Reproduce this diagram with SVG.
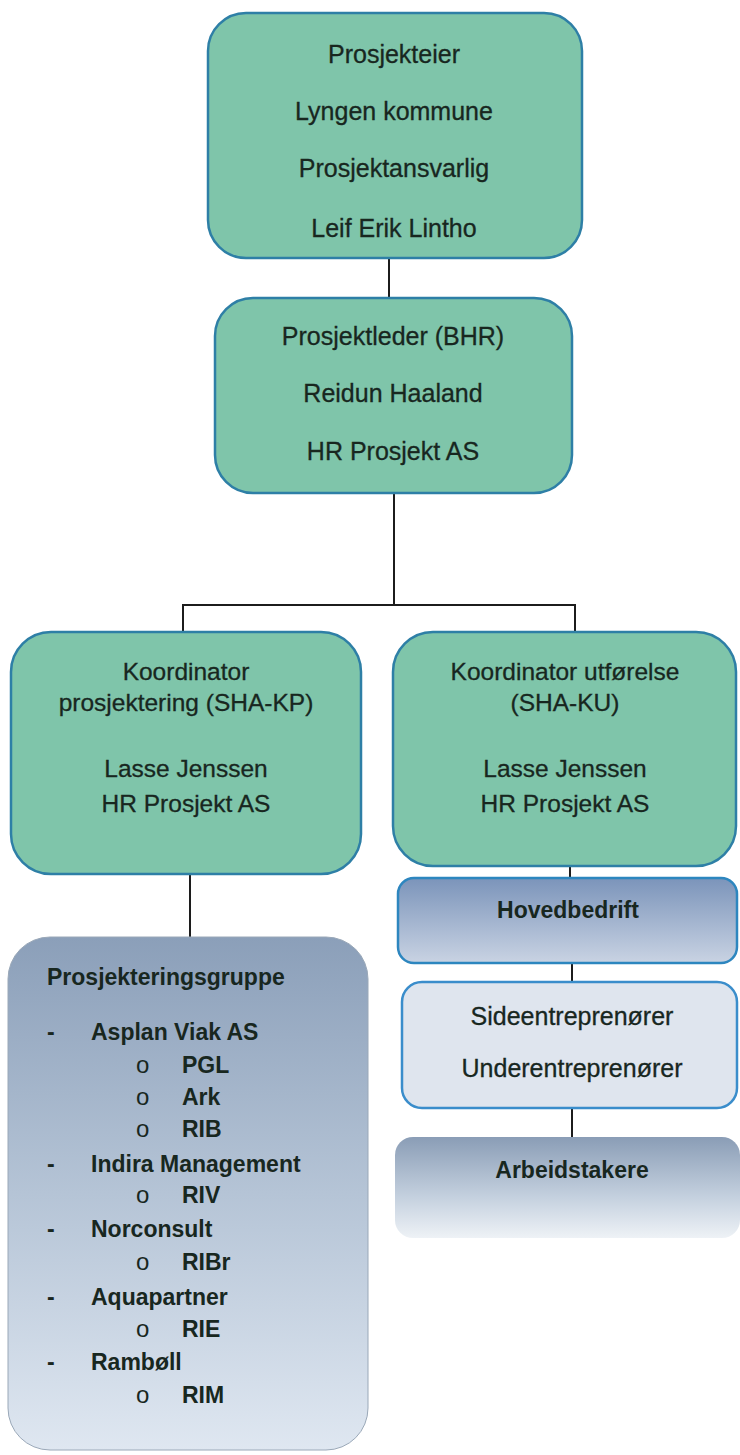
<svg xmlns="http://www.w3.org/2000/svg" width="740" height="1455" viewBox="0 0 740 1455">
<defs>
<linearGradient id="gBlue" x1="0" y1="0" x2="0" y2="1">
<stop offset="0" stop-color="#7b94ba"/>
<stop offset="1" stop-color="#c9d3e3"/>
</linearGradient>
<linearGradient id="gFade" x1="0" y1="0" x2="0" y2="1">
<stop offset="0" stop-color="#8a9db6"/>
<stop offset="0.6" stop-color="#c5d1df"/>
<stop offset="1" stop-color="#eef2f6"/>
</linearGradient>
<linearGradient id="gList" x1="0" y1="0" x2="0" y2="1">
<stop offset="0" stop-color="#8b9fb9"/>
<stop offset="0.5" stop-color="#b5c4d6"/>
<stop offset="1" stop-color="#dfe7f1"/>
</linearGradient>
</defs>
<style>
.green{fill:#7fc5aa;stroke:#2e7fa6;stroke-width:2.5}
.blue{fill:url(#gBlue);stroke:#2d86bf;stroke-width:2.5}
.light{fill:#dfe5ee;stroke:#3a8dcb;stroke-width:2.5}
.fade{fill:url(#gFade);stroke:none}
.list{fill:url(#gList);stroke:#9aa8b8;stroke-width:1}
text{font-family:"Liberation Sans",Arial,sans-serif;fill:#18271f}
.c{text-anchor:middle;font-size:25px;stroke:#18271f;stroke-width:0.3}
.cc{text-anchor:middle;font-size:24.5px;stroke:#18271f;stroke-width:0.3}
.b{font-weight:bold;font-size:23px;stroke:none}
.o{font-size:24px}
.conn line{stroke:#1c1c1c;stroke-width:2}
</style>
<rect width="740" height="1455" fill="#ffffff"/>
<g class="conn" id="connectors">
<line x1="389" y1="258" x2="389" y2="298"/>
<line x1="394" y1="493" x2="394" y2="605"/>
<line x1="182" y1="605" x2="576" y2="605"/>
<line x1="183" y1="604" x2="183" y2="632"/>
<line x1="575" y1="604" x2="575" y2="632"/>
<line x1="570" y1="866" x2="570" y2="878"/>
<line x1="572" y1="963" x2="572" y2="982"/>
<line x1="572" y1="1108" x2="572" y2="1137"/>
<line x1="190" y1="874" x2="190" y2="937"/>
</g>
<g id="prosjekteier">
<rect class="green" x="208" y="13" width="374" height="245" rx="38"/>
<text class="c" x="394" y="63">Prosjekteier</text>
<text class="c" x="394" y="120">Lyngen kommune</text>
<text class="c" x="394" y="177">Prosjektansvarlig</text>
<text class="c" x="394" y="237">Leif Erik Lintho</text>
</g>
<g id="prosjektleder">
<rect class="green" x="215" y="298" width="357" height="195" rx="38"/>
<text class="c" x="393" y="345">Prosjektleder (BHR)</text>
<text class="c" x="393" y="402">Reidun Haaland</text>
<text class="c" x="393" y="460">HR Prosjekt AS</text>
</g>
<g id="koordinator-kp">
<rect class="green" x="11" y="632" width="350" height="242" rx="40"/>
<text class="cc" x="186" y="680">Koordinator</text>
<text class="cc" x="186" y="711">prosjektering (SHA-KP)</text>
<text class="cc" x="186" y="777">Lasse Jenssen</text>
<text class="cc" x="186" y="812">HR Prosjekt AS</text>
</g>
<g id="koordinator-ku">
<rect class="green" x="393" y="632" width="343" height="234" rx="40"/>
<text class="cc" x="565" y="680">Koordinator utførelse</text>
<text class="cc" x="565" y="711">(SHA-KU)</text>
<text class="cc" x="565" y="777">Lasse Jenssen</text>
<text class="cc" x="565" y="812">HR Prosjekt AS</text>
</g>
<g id="hovedbedrift">
<rect class="blue" x="398" y="878" width="339" height="85" rx="16"/>
<text class="c b" x="568" y="918">Hovedbedrift</text>
</g>
<g id="entreprenorer">
<rect class="light" x="402" y="982" width="335" height="126" rx="20"/>
<text class="c" x="572" y="1025">Sideentreprenører</text>
<text class="c" x="572" y="1077">Underentreprenører</text>
</g>
<g id="arbeidstakere">
<rect class="fade" x="395" y="1137" width="345" height="101" rx="18"/>
<text class="c b" x="572" y="1178">Arbeidstakere</text>
</g>
<g id="prosjekteringsgruppe">
<rect class="list" x="8" y="937" width="360" height="513" rx="42"/>
<text class="b" x="47" y="985">Prosjekteringsgruppe</text>
<text class="b" x="47" y="1040">-</text><text class="b" x="91" y="1040">Asplan Viak AS</text>
<text class="o" x="136" y="1073">o</text><text class="b" x="182" y="1073">PGL</text>
<text class="o" x="136" y="1105">o</text><text class="b" x="182" y="1105">Ark</text>
<text class="o" x="136" y="1137">o</text><text class="b" x="182" y="1137">RIB</text>
<text class="b" x="47" y="1172">-</text><text class="b" x="91" y="1172">Indira Management</text>
<text class="o" x="136" y="1203">o</text><text class="b" x="182" y="1203">RIV</text>
<text class="b" x="47" y="1237">-</text><text class="b" x="91" y="1237">Norconsult</text>
<text class="o" x="136" y="1270">o</text><text class="b" x="182" y="1270">RIBr</text>
<text class="b" x="47" y="1305">-</text><text class="b" x="91" y="1305">Aquapartner</text>
<text class="o" x="136" y="1337">o</text><text class="b" x="182" y="1337">RIE</text>
<text class="b" x="47" y="1370">-</text><text class="b" x="91" y="1370">Rambøll</text>
<text class="o" x="136" y="1403">o</text><text class="b" x="182" y="1403">RIM</text>
</g>
</svg>
